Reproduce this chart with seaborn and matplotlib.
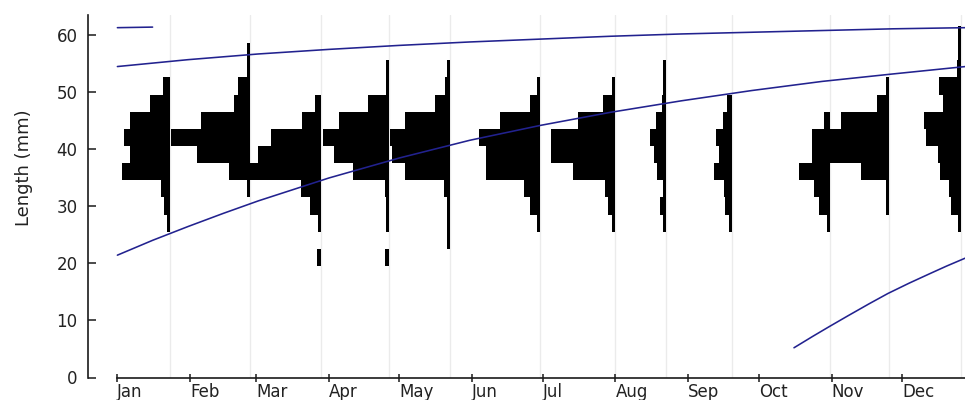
import matplotlib
matplotlib.use("Agg")
import matplotlib.pyplot as plt
import seaborn as sns

# length classes (mm), 3 mm wide
length_mid = [21, 24, 27, 30, 33, 36, 39, 42, 45, 48, 51, 54, 57, 60]

# sampling dates (day of year)
sample_day = [22.5, 56.6, 86.8, 115.7, 141.7, 180.0, 211.7, 233.6, 261.7, 303.4, 328.5, 359.1]

# relative frequency of each length class, one list per sample
freq_jan = [0, 0, 3, 6, 9, 48, 40, 46, 40, 20, 7, 0, 0, 0]
freq_feb = [0, 0, 0, 0, 3, 21, 53, 79, 49, 16, 12, 3, 3, 0]
freq_mar = [4, 0, 3, 11, 20, 72, 63, 50, 19, 6, 0, 0, 0, 0]
freq_apr = [4, 0, 3, 3, 4, 36, 55, 66, 50, 21, 3, 3, 0, 0]
freq_may = [0, 3, 3, 3, 6, 45, 58, 60, 45, 15, 5, 3, 0, 0]
freq_jun = [0, 0, 3, 10, 16, 54, 54, 61, 40, 10, 3, 0, 0, 0]
freq_jul = [0, 0, 3, 7, 10, 42, 64, 64, 37, 12, 3, 0, 0, 0]
freq_aug = [0, 0, 3, 6, 3, 9, 12, 16, 10, 4, 3, 3, 0, 0]
freq_sep = [0, 0, 3, 7, 8, 18, 13, 16, 9, 5, 0, 0, 0, 0]
freq_oct = [0, 0, 3, 11, 16, 31, 18, 18, 6, 0, 0, 0, 0, 0]
freq_nov = [0, 0, 0, 3, 3, 28, 60, 62, 48, 12, 3, 0, 0, 0]
freq_dec = [0, 0, 3, 10, 12, 21, 23, 35, 37, 18, 22, 4, 3, 3]
sample_freqs = [freq_jan, freq_feb, freq_mar, freq_apr, freq_may, freq_jun,
                freq_jul, freq_aug, freq_sep, freq_oct, freq_nov, freq_dec]

# growth curves (day of year, length mm)
curve1_day = [0, 15]
curve1_len = [61.2, 61.3]
curve2_day = [0, 30, 60, 90, 120, 150, 180, 210, 240, 270, 300, 330, 361]
curve2_len = [54.4, 55.6, 56.6, 57.4, 58.1, 58.7, 59.2, 59.7, 60.1, 60.4, 60.7, 61.0, 61.2]
curve3_day = [0, 15, 30, 45, 60, 90, 120, 150, 180, 210, 240, 270, 300, 330, 361]
curve3_len = [21.4, 24.0, 26.4, 28.7, 30.9, 34.9, 38.4, 41.5, 44.1, 46.4, 48.4, 50.2, 51.8, 53.1, 54.4]
curve4_day = [288, 296, 303, 311, 320, 328, 337, 346, 353, 361]
curve4_len = [5.2, 7.2, 8.9, 10.8, 12.9, 14.7, 16.5, 18.2, 19.5, 20.9]

month_start = [0, 31, 59, 90, 120, 151, 181, 212, 243, 273, 304, 334]
month_labels = ["Jan", "Feb", "Mar", "Apr", "May", "Jun",
                "Jul", "Aug", "Sep", "Oct", "Nov", "Dec"]

sns.set_style("ticks")
plt.rcParams["font.family"] = ["DejaVu Sans"]

fig = plt.figure(figsize=(9.65, 4.0), dpi=100)
ax = fig.add_axes([0.0912, 0.05625, 0.9088, 0.906])

bar_scale = 0.426  # days of width per frequency unit
line_col = "#22228f"

for day in sample_day:
    ax.axvline(day, color="#ebebeb", lw=1, zorder=0)

for day, freqs in zip(sample_day, sample_freqs):
    mids = [m for m, f in zip(length_mid, freqs) if f > 0]
    widths = [-f * bar_scale for f in freqs if f > 0]
    ax.barh(mids, widths, left=day, height=3, color="black", linewidth=0, zorder=2)

for cd, cl in [(curve1_day, curve1_len), (curve2_day, curve2_len),
               (curve3_day, curve3_len), (curve4_day, curve4_len)]:
    sns.lineplot(x=cd, y=cl, color=line_col, lw=1.15, ax=ax, zorder=3)

ax.set_xlim(-12.5, 360.8)
ax.set_ylim(0, 63.4)
ax.set_yticks([0, 10, 20, 30, 40, 50, 60])
ax.set_xticks(month_start)
ax.set_xticklabels(month_labels, ha="left")

ax.tick_params(axis="y", direction="in", length=6, width=1.1, pad=7.5,
               labelsize=12, labelcolor="#222222", color="#1a1a1a")
ax.tick_params(axis="x", direction="inout", length=5.3, width=1.1, pad=1,
               labelsize=12, labelcolor="#222222", color="#1a1a1a")

sns.despine(ax=ax)
ax.spines["left"].set_linewidth(1.2)
ax.spines["bottom"].set_linewidth(1.2)
ax.spines["left"].set_color("#1a1a1a")
ax.spines["bottom"].set_color("#1a1a1a")
ax.spines["bottom"].set_bounds(0, 360.8)

ax.set_xlabel("")
ax.set_ylabel("Length (mm)", fontsize=13, color="#222222")
ax.yaxis.set_label_coords(-0.0627, 0.58)

fig.savefig("out.png", dpi=100)
